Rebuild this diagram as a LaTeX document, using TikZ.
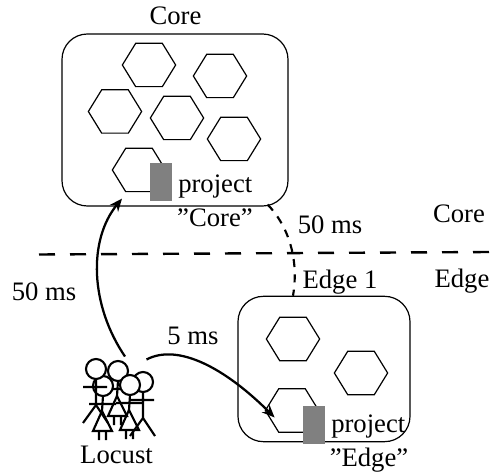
\documentclass[tikz,border=0pt]{standalone}
\usepackage{fontspec}
\setmainfont{Liberation Serif}
\usepackage{tikz}
\usetikzlibrary{shapes,arrows,arrows.meta,positioning,calc}

\begin{document}
\begin{tikzpicture}[
    x=0.75pt, y=-0.75pt,
    lbl/.style={anchor=base, inner sep=0pt, font=\fontsize{20}{24}\selectfont},
    site/.style={rectangle, draw=black, line width=0.9pt, rounded corners=19pt},
    hexa/.style={regular polygon, regular polygon sides=6, draw=black, line width=0.9pt, minimum size=37.5pt, inner sep=0pt, xscale=1.066, transform shape},
    proj/.style={rectangle, fill=gray, minimum width=16.5pt, minimum height=28.5pt, inner sep=0pt},
    arrow/.style={-{Stealth[length=9.5pt,width=8pt]}, line width=1.7pt},
    split/.style={line width=1.8pt, dash pattern=on 12pt off 11.25pt},
    link/.style={line width=1.6pt, dash pattern=on 6pt off 5.5pt},
    manfig/.pic={
        \draw[line width=1.6pt] (0,10) -- (0,36) (-13,18) -- (11,18) (-13,54) -- (0,36) -- (12,54);
        \draw[line width=1.6pt, fill=white] (0,0) circle (10);
    },
    womanfig/.pic={
        \draw[line width=1.6pt] (0,10) -- (-1,25) (-14,18) -- (13,18) (-4,45) -- (-4,54) (3,45) -- (3,54);
        \draw[line width=1.6pt] (-1,25) -- (-10,45) -- (9,45) -- cycle;
        \draw[line width=1.6pt, fill=white] (0,0) circle (10);
    }
]
    \useasboundingbox (0,0) rectangle (492,473);

    % core site
    \node[site, minimum width=169.5pt, minimum height=129pt] (coreBox) at (175,120) {};
    \node[hexa] (coreHexA) at (149,65) {};
    \node[hexa] (coreHexB) at (220,76) {};
    \node[hexa] (coreHexC) at (115,111.5) {};
    \node[hexa] (coreHexD) at (177,118) {};
    \node[hexa] (coreHexE) at (234,139) {};
    \node[hexa] (coreHexF) at (139,170) {};
    \node[proj] (coreProj) at (161,182) {};
    \node[lbl] (coreTitle) at (175.5,25) {Core};
    \node[lbl, anchor=base west] (coreName) at (178,193) {project};
    \node[lbl] (coreQuote) at (215,227) {\char34 Core\char34};

    % edge site
    \node[site, minimum width=129pt, minimum height=109pt] (edgeBox) at (324,369) {};
    \node[hexa] (edgeHexA) at (293,339) {};
    \node[hexa] (edgeHexB) at (361,373) {};
    \node[hexa] (edgeHexC) at (292,410.5) {};
    \node[proj] (edgeProj) at (314,425) {};
    \node[lbl] (edgeTitle) at (340,289) {Edge 1};
    \node[lbl, anchor=base west] (edgeName) at (331,432) {project};
    \node[lbl] (edgeQuote) at (369,466) {\char34 Edge\char34};

    % separation of the two tiers
    \coordinate (splitL) at (39,254.5);
    \coordinate (splitR) at (490,252);
    \draw[split] (splitL) -- (splitR);
    \node[lbl] (tierCore) at (459,223) {Core};
    \node[lbl] (tierEdge) at (462,288) {Edge};

    % users
    \pic at (143,382) {manfig};
    \pic at (118,371) {womanfig};
    \pic at (103,386) {womanfig};
    \pic at (130,385) {womanfig};
    \pic at (96,369) {manfig};
    \node[lbl] (locust) at (116.5,463) {Locust};
    \coordinate (locustUp) at (125,356.5);
    \coordinate (locustOut) at (146.5,359.5);

    % latencies
    \draw[arrow] (locustUp) .. controls (90,305) and (88,240) .. ($(coreBox.south)+(-53,-8)$);
    \draw[arrow] (locustOut) .. controls (178,343) and (225,368) .. ($(edgeHexC.west)+(10,7)$);
    \draw[link] ($(coreBox.south east)+(-21,-2)$) .. controls (285,222) and (300,255) .. ($(edgeBox.north)+(-31,0)$);
    \node[lbl] (coreLat) at (44,300.5) {50 ms};
    \node[lbl] (edgeLat) at (193,345) {5 ms};
    \node[lbl] (linkLat) at (330,234) {50 ms};
\end{tikzpicture}
\end{document}
